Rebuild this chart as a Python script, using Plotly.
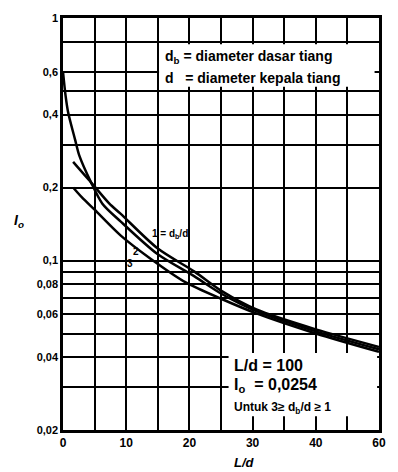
import math
import plotly.graph_objects as go

# ---- data ----
curve_a_x = [0, 0.4, 0.8, 1.9, 2.6, 4.4, 6.2, 9.1, 15, 20.8, 25.2, 30.6, 40, 50]
curve_a_y = [0.6, 0.48, 0.41, 0.316, 0.27, 0.211, 0.172, 0.145, 0.106, 0.086, 0.0726, 0.0618, 0.051, 0.043]

curve_b_x = [1.6, 2.6, 4.1, 7.3, 9.1, 15, 20.8, 25.2, 30.6, 40, 50]
curve_b_y = [0.255, 0.238, 0.215, 0.172, 0.156, 0.112, 0.090, 0.0746, 0.0628, 0.052, 0.044]

curve_c_x = [1.6, 3.0, 5.0, 9.1, 13.8, 19.5, 25.2, 30.6, 40, 50]
curve_c_y = [0.2, 0.182, 0.162, 0.127, 0.102, 0.081, 0.0692, 0.0605, 0.0500, 0.042]

x_ticks = [0, 10, 20, 30, 40, 50]
x_labels = ["0", "10", "20", "30", "40", "60"]
x_minor = [5, 15, 25, 35, 45]

y_ticks = [0.02, 0.04, 0.06, 0.08, 0.1, 0.2, 0.4, 0.6, 1]
y_labels = ["0,02", "0,04", "0,06", "0,08", "0,1", "0,2", "0,4", "0,6", "1"]
y_minor = [0.03, 0.05, 0.07, 0.09, 0.3, 0.5, 0.8]

Y_MIN, Y_MAX = 0.02, 1.0
BOLD = "Liberation Sans"


def yfrac(v):
    return (math.log10(v) - math.log10(Y_MIN)) / (math.log10(Y_MAX) - math.log10(Y_MIN))


fig = go.Figure()
for xs, ys in [(curve_a_x, curve_a_y), (curve_b_x, curve_b_y), (curve_c_x, curve_c_y)]:
    fig.add_trace(go.Scatter(x=xs, y=ys, mode="lines",
                             line=dict(color="black", width=2.5, shape="spline", smoothing=0.8),
                             showlegend=False, hoverinfo="skip"))

# white boxes behind text blocks
fig.add_shape(type="rect", x0=15.2, x1=49.3, y0=yfrac(0.52), y1=yfrac(0.78),
              xref="x", yref="paper", fillcolor="white", line=dict(width=0), layer="above")
fig.add_shape(type="rect", x0=26.2, x1=49.7, y0=yfrac(0.0228), y1=yfrac(0.0415),
              xref="x", yref="paper", fillcolor="white", line=dict(width=0), layer="above")


def txt(x, y, s, size, anchor="left"):
    fig.add_annotation(x=x, y=math.log10(y), xref="x", yref="y", text=s, showarrow=False,
                       xanchor=anchor, yanchor="middle",
                       font=dict(family=BOLD, size=size, color="black"))


txt(15.8, 0.692, "<b>d<sub>b</sub> = diameter dasar tiang</b>", 14)
txt(15.8, 0.568, "<b>d&nbsp;&nbsp; = diameter kepala tiang</b>", 14)
txt(26.7, 0.0368, "<b>L/d = 100</b>", 16)
txt(26.7, 0.0305, "<b>I<sub>o</sub>&nbsp; = 0,0254</b>", 16)
txt(26.7, 0.0247, "<b>Untuk 3≥ d<sub>b</sub>/d ≥ 1</b>", 12)

txt(13.8, 0.129, "<b>1 = d<sub>b</sub>/d</b>", 10)
txt(11.5, 0.109, "<b>2</b>", 10, "center")
txt(10.6, 0.097, "<b>3</b>", 10, "center")

# axis titles (horizontal, as in the reference)
fig.add_annotation(x=-0.14, y=yfrac(0.145), xref="paper", yref="paper",
                   text="<b><i>I<sub>o</sub></i></b>", showarrow=False,
                   xanchor="center", yanchor="middle",
                   font=dict(family=BOLD, size=14, color="black"))
fig.add_annotation(x=28.7, y=-0.078, xref="x", yref="paper",
                   text="<b><i>L/d</i></b>", showarrow=False,
                   xanchor="center", yanchor="middle",
                   font=dict(family=BOLD, size=13, color="black"))

grid = dict(showgrid=True, gridcolor="black", gridwidth=1.6)

fig.update_layout(
    width=398, height=472,
    margin=dict(l=63, r=13, t=15, b=42),
    paper_bgcolor="white", plot_bgcolor="white",
    font=dict(family=BOLD, color="black"),
    xaxis=dict(range=[0, 50], tickvals=x_ticks, ticktext=["<b>%s</b>" % t for t in x_labels],
               minor=dict(tickvals=x_minor, ticks="", **grid),
               showline=True, linecolor="black", linewidth=2.5, mirror=True,
               zeroline=False, ticks="", **grid,
               tickfont=dict(family=BOLD, size=12, color="black")),
    yaxis=dict(type="log", range=[math.log10(Y_MIN), math.log10(Y_MAX)], tickvals=y_ticks,
               ticktext=["<b>%s</b>" % t for t in y_labels],
               minor=dict(tickvals=y_minor, ticks="", **grid),
               showline=True, linecolor="black", linewidth=2.5, mirror=True,
               zeroline=False, ticks="", **grid,
               tickfont=dict(family=BOLD, size=11, color="black")),
)

fig.write_html("out.html")
